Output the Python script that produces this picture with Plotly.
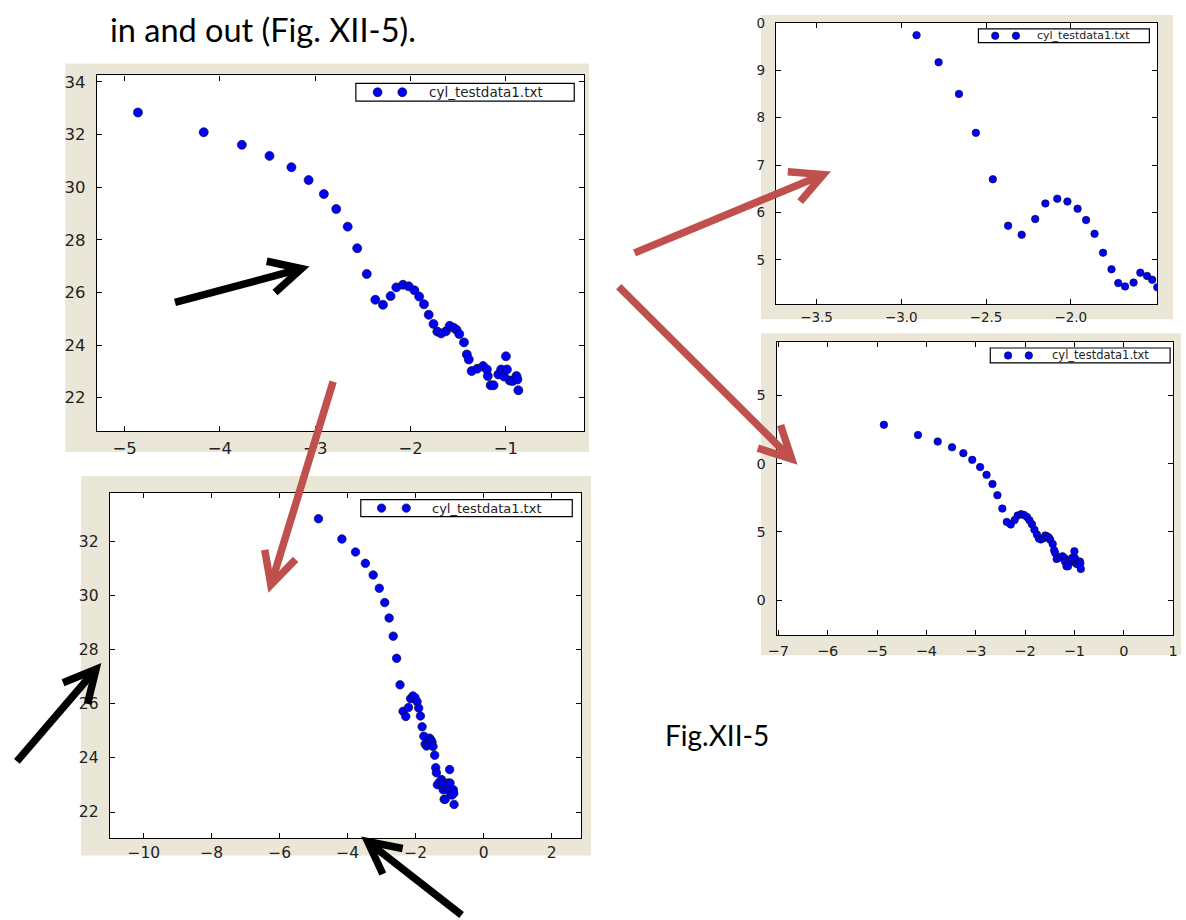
import math
import plotly.graph_objects as go

W, H = 1186, 920

# data
x_vals = [-4.86, -4.17, -3.77, -3.48, -3.25, -3.07, -2.91, -2.78, -2.66, -2.56,
          -2.46, -2.37, -2.29, -2.21, -2.15, -2.08, -2.02, -1.96, -1.91, -1.86,
          -1.81, -1.76, -1.72, -1.68, -1.63, -1.59, -1.55, -1.52, -1.49, -1.44,
          -1.41, -1.39, -1.36, -1.30, -1.24, -1.20, -1.19, -1.16, -1.13, -1.08,
          -1.05, -1.02, -1.00, -0.99, -0.96, -0.93, -0.89, -0.88, -0.87]
y_vals = [32.84, 32.09, 31.61, 31.19, 30.76, 30.27, 29.74, 29.17, 28.50, 27.68,
          26.70, 25.72, 25.53, 25.86, 26.19, 26.29, 26.23, 26.08, 25.84, 25.55,
          25.15, 24.80, 24.51, 24.44, 24.52, 24.73, 24.66, 24.58, 24.42, 24.10,
          23.64, 23.45, 23.01, 23.10, 23.20, 23.07, 22.82, 22.47, 22.47, 22.88,
          23.07, 22.80, 23.57, 23.07, 22.65, 22.63, 22.82, 22.69, 22.28]
legend_label = "cyl_testdata1.txt"

p1_xticks = [-5, -4, -3, -2, -1]
p1_yticks = [22, 24, 26, 28, 30, 32, 34]
p2_xticks = [-3.5, -3.0, -2.5, -2.0]
p2_yticks = [25, 26, 27, 28, 29, 30]
p2_ytext = ["5", "6", "7", "8", "9", "0"]   # labels cut off at the left in the slide
p3_xticks = [-7, -6, -5, -4, -3, -2, -1, 0, 1]
p3_yticks = [20, 25, 30, 35]
p3_ytext = ["0", "5", "0", "5"]
p4_xticks = [-10, -8, -6, -4, -2, 0, 2]
p4_yticks = [22, 24, 26, 28, 30, 32]

title_text = "in and out (Fig. XII-5)."
caption_text = "Fig.XII-5"

beige = "#ebe7d8"
red = "#c0504d"
tick_font = "DejaVu Sans"


def px(x):
    return x / W


def py(y):
    return 1 - y / H


def fmt_ticks(vals, decimals=0):
    out = []
    for v in vals:
        s = f"{abs(v):.{decimals}f}"
        out.append(("\u2212" + s) if v < 0 else s)
    return out


panels = [
    dict(bg=(57, 56, 587, 448), frame=(89, 68, 582, 427), xr=[-5.29, -0.18], yr=[20.72, 34.25],
         xt=p1_xticks, xtt=fmt_ticks(p1_xticks), yt=p1_yticks, ytt=fmt_ticks(p1_yticks),
         fs=16.5, xso=2, ms=9, leg=(351, 76, 572, 94), legm=(373, 398), legt=423, lfs=13.5),
    dict(bg=(761, 7, 1178, 314), frame=(776, 15, 1162, 299), xr=[-3.74, -1.49], yr=[24.06, 30.0],
         xt=p2_xticks, xtt=fmt_ticks(p2_xticks, 1), yt=p2_yticks, ytt=p2_ytext,
         fs=13.5, xso=0, ms=7.5, leg=(981, 21, 1154, 35), legm=(998, 1019), legt=1038, lfs=11),
    dict(bg=(761, 328, 1186, 653), frame=(777, 337, 1178, 633), xr=[-7.03, 1.0], yr=[17.4, 38.9],
         xt=p3_xticks, xtt=fmt_ticks(p3_xticks), yt=p3_yticks, ytt=p3_ytext,
         fs=14.5, xso=2, ms=7.5, leg=(993, 343, 1175, 358), legm=(1011, 1032), legt=1053, lfs=11.5),
    dict(bg=(73, 472, 589, 855), frame=(102, 489, 579, 837), xr=[-11.0, 2.87], yr=[21.05, 33.8],
         xt=p4_xticks, xtt=fmt_ticks(p4_xticks), yt=p4_yticks, ytt=fmt_ticks(p4_yticks),
         fs=15.5, xso=1, ms=8.5, leg=(356, 496, 570, 513), legm=(377, 402), legt=426, lfs=13),
]


def arrow_shapes(tail, tip, color, width=7.5, head_len=36, half_angle=27):
    ang = math.atan2(tail[1] - tip[1], tail[0] - tip[0])
    arms = []
    for s in (1, -1):
        a = ang + s * math.radians(half_angle)
        arms.append((tip[0] + head_len * math.cos(a), tip[1] + head_len * math.sin(a)))
    end = (tip[0] + 4 * math.cos(ang), tip[1] + 4 * math.sin(ang))
    line = dict(color=color, width=width)
    shaft = dict(type="path", xref="paper", yref="paper", layer="above", line=line,
                 path=f"M{px(tail[0])},{py(tail[1])} L{px(end[0])},{py(end[1])}")
    head = dict(type="path", xref="paper", yref="paper", layer="above", line=line,
                path=f"M{px(arms[0][0])},{py(arms[0][1])} L{px(tip[0])},{py(tip[1])} "
                     f"L{px(arms[1][0])},{py(arms[1][1])}")
    return [shaft, head]


def build_figure():
    fig = go.Figure()
    shapes = []
    annotations = []

    for i, p in enumerate(panels):
        n = "" if i == 0 else str(i + 1)
        l, t, r, b = p["frame"]
        bl, bt, br, bb = p["bg"]
        shapes.append(dict(type="rect", xref="paper", yref="paper", layer="below",
                           x0=px(bl), x1=px(br), y0=py(bb), y1=py(bt),
                           fillcolor=beige, line=dict(width=0)))
        shapes.append(dict(type="rect", xref="paper", yref="paper", layer="below",
                           x0=px(l), x1=px(r), y0=py(b), y1=py(t),
                           fillcolor="white", line=dict(width=0)))

        fig.add_trace(go.Scatter(
            x=x_vals, y=y_vals, mode="markers", name=legend_label, showlegend=False,
            xaxis="x" + n, yaxis="y" + n,
            marker=dict(color="#0000ff", size=p["ms"], line=dict(color="#101030", width=0.7)),
        ))

        axis_common = dict(showgrid=False, zeroline=False, showline=True, linecolor="black",
                           linewidth=1.2, mirror="ticks", ticks="inside", ticklen=5,
                           tickcolor="black", tickwidth=1,
                           tickfont=dict(family=tick_font, size=p["fs"], color="#222222"))
        fig.update_layout({
            "xaxis" + n: dict(domain=[px(l), px(r)], range=p["xr"], anchor="y" + n,
                              tickmode="array", tickvals=p["xt"], ticktext=p["xtt"],
                              ticklabelstandoff=p["xso"], **axis_common),
            "yaxis" + n: dict(domain=[py(b), py(t)], range=p["yr"], anchor="x" + n,
                              tickmode="array", tickvals=p["yt"], ticktext=p["ytt"],
                              ticklabelstandoff=7, **axis_common),
        })

        # legend box in matplotlib style (two markers + label)
        ll, lt, lr, lb = p["leg"]
        shapes.append(dict(type="rect", xref="paper", yref="paper", layer="above",
                           x0=px(ll), x1=px(lr), y0=py(lb), y1=py(lt),
                           fillcolor="white", line=dict(color="black", width=1.2)))
        cy = (lt + lb) / 2
        rad = p["ms"] / 2
        for mx in p["legm"]:
            shapes.append(dict(type="circle", xref="paper", yref="paper", layer="above",
                               x0=px(mx - rad), x1=px(mx + rad), y0=py(cy + rad), y1=py(cy - rad),
                               fillcolor="#0000ff", line=dict(color="#101030", width=0.7)))
        annotations.append(dict(xref="paper", yref="paper", x=px(p["legt"]), y=py(cy),
                                xanchor="left", yanchor="middle", showarrow=False,
                                text=legend_label,
                                font=dict(family=tick_font, size=p["lfs"], color="#222222")))

    shapes += arrow_shapes((168, 297), (296, 263), "black")
    shapes += arrow_shapes((633, 247), (824, 168), red)
    shapes += arrow_shapes((617, 281), (792, 455), red)
    shapes += arrow_shapes((328, 377), (265, 582), red)
    shapes += arrow_shapes((8, 760), (88, 667), "black")
    shapes += arrow_shapes((458, 915), (363, 841), "black")

    annotations.append(dict(xref="paper", yref="paper", x=px(100), y=1,
                            xanchor="left", yanchor="top", showarrow=False,
                            text=title_text, font=dict(family="Lato", size=32.5, color="black")))
    annotations.append(dict(xref="paper", yref="paper", x=px(662), y=py(733),
                            xanchor="left", yanchor="middle", showarrow=False,
                            text=caption_text, font=dict(family="Lato", size=28, color="black")))

    fig.update_layout(
        width=W, height=H, margin=dict(l=0, r=0, t=0, b=0),
        paper_bgcolor="white", plot_bgcolor="rgba(0,0,0,0)",
        showlegend=False, shapes=shapes, annotations=annotations,
    )
    return fig


if __name__ == "__main__":
    fig = build_figure()
    fig.write_html("out.html", config={"displayModeBar": False},
                   post_script="document.body.style.margin='0';")
